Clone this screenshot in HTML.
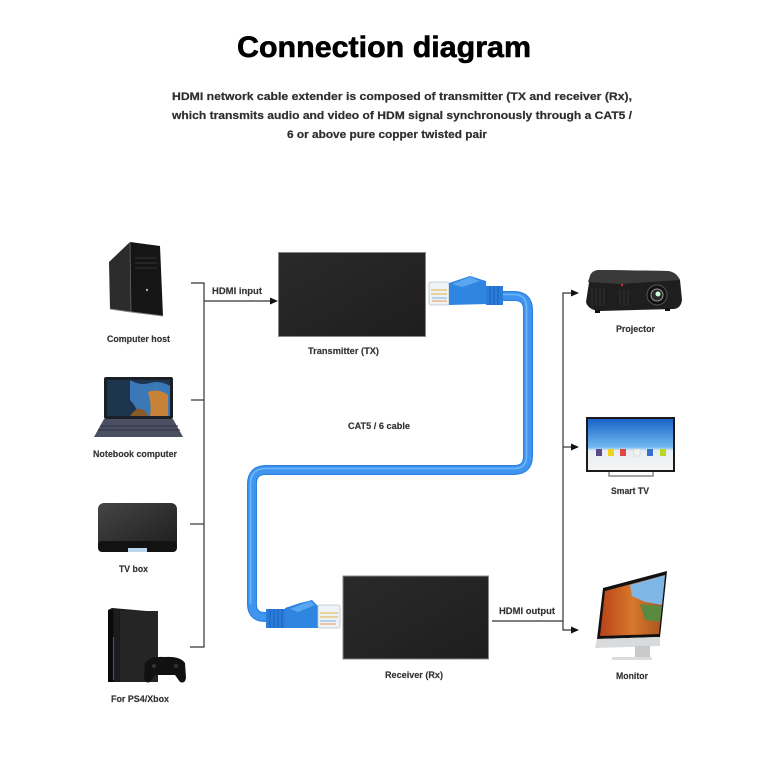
<!DOCTYPE html>
<html><head><meta charset="utf-8"><style>
html,body{margin:0;padding:0;background:#fff;}
svg{display:block;}
.t{font-family:"Liberation Sans",sans-serif;font-weight:bold;}
.l{font-family:"Liberation Sans",sans-serif;font-weight:bold;font-size:9px;fill:#333;stroke:#333;stroke-width:0.15;}
.s{font-family:"Liberation Sans",sans-serif;font-weight:bold;font-size:11px;fill:#2e2e2e;stroke:#2e2e2e;stroke-width:0.2;}
</style></head><body>
<svg width="768" height="768" viewBox="0 0 768 768" xmlns="http://www.w3.org/2000/svg">
<defs>
<linearGradient id="tvsky" x1="0" y1="0" x2="0" y2="1">
<stop offset="0" stop-color="#1a62c8"/><stop offset="0.55" stop-color="#6fb8ee"/><stop offset="0.62" stop-color="#e6eef3"/><stop offset="1" stop-color="#f4f4f4"/>
</linearGradient>
<linearGradient id="box" x1="0" y1="0" x2="1" y2="1">
<stop offset="0" stop-color="#2a2a2a"/><stop offset="1" stop-color="#1e1e1e"/>
</linearGradient>
<linearGradient id="tvb" x1="0" y1="0" x2="1" y2="1">
<stop offset="0" stop-color="#454545"/><stop offset="1" stop-color="#1d1d1d"/>
</linearGradient>
<linearGradient id="ps" x1="0" y1="0" x2="1" y2="0">
<stop offset="0" stop-color="#111"/><stop offset="1" stop-color="#3a3a3a"/>
</linearGradient>
<linearGradient id="mac" x1="0" y1="0" x2="1" y2="0">
<stop offset="0" stop-color="#b8431a"/><stop offset="0.5" stop-color="#d7782d"/><stop offset="1" stop-color="#a8501e"/>
</linearGradient>
</defs>

<!-- Title -->
<text class="t" x="384" y="57" font-size="30" text-anchor="middle" fill="#000" stroke="#000" stroke-width="0.6" textLength="294" lengthAdjust="spacingAndGlyphs">Connection diagram</text>
<text class="s" x="172" y="100" textLength="460" lengthAdjust="spacingAndGlyphs">HDMI network cable extender is composed of transmitter (TX and receiver (Rx),</text>
<text class="s" x="172" y="119" textLength="460" lengthAdjust="spacingAndGlyphs">which transmits audio and video of HDM signal synchronously  through a CAT5 /</text>
<text class="s" x="287" y="138" textLength="200" lengthAdjust="spacingAndGlyphs">6 or above pure copper twisted pair</text>

<!-- Left bracket -->
<g stroke="#333" stroke-width="1.2" fill="none">
<path d="M191 283 H204 V647 H190"/>
<path d="M191 400 H204"/>
<path d="M190 524 H204"/>
<path d="M204 301 H271"/>
<!-- right bracket -->
<path d="M492 621 H563"/>
<path d="M572 293 H563 V630 H572"/>
<path d="M563 447 H572"/>
</g>
<polygon points="270,297.5 278,301 270,304.5" fill="#111"/>
<polygon points="571,289.5 579,293 571,296.5" fill="#111"/>
<polygon points="571,443.5 579,447 571,450.5" fill="#111"/>
<polygon points="571,626.5 579,630 571,633.5" fill="#111"/>
<text class="l" x="212" y="294" textLength="50" lengthAdjust="spacingAndGlyphs">HDMI input</text>
<text class="l" x="499" y="614" textLength="56" lengthAdjust="spacingAndGlyphs">HDMI output</text>

<!-- TX box -->
<rect x="278.5" y="252.5" width="147" height="84" fill="url(#box)" stroke="#888" stroke-width="1"/>
<text class="l" x="308" y="354" textLength="71" lengthAdjust="spacingAndGlyphs">Transmitter (TX)</text>
<!-- RX box -->
<rect x="343" y="576" width="145.5" height="83" fill="url(#box)" stroke="#888" stroke-width="1"/>
<text class="l" x="385" y="678" textLength="58" lengthAdjust="spacingAndGlyphs">Receiver (Rx)</text>

<!-- Cable -->
<path d="M500 296 H514 Q528 296 528 310 V456 Q528 470 514 470 H266 Q252 470 252 484 V604 Q252 617 265 617 H272" fill="none" stroke="#2f82e0" stroke-width="10" stroke-linejoin="round"/>
<path d="M500 296 H514 Q528 296 528 310 V456 Q528 470 514 470 H266 Q252 470 252 484 V604 Q252 617 265 617 H272" fill="none" stroke="#3f95ef" stroke-width="7.5"/>
<path d="M500 294.5 H514 Q526.5 294.5 526.5 308 V456 Q526.5 468.5 514 468.5 H266 Q250.5 468.5 250.5 484 V604" fill="none" stroke="#6db6f7" stroke-width="1.6"/>
<text class="l" x="348" y="429" textLength="62" lengthAdjust="spacingAndGlyphs">CAT5 / 6 cable</text>

<!-- TX connector -->
<g>
<rect x="429" y="282" width="20" height="23" rx="2" fill="#eef3f6" stroke="#b8c4cc" stroke-width="0.8"/>
<path d="M431 290 H447 M431 294 H447" stroke="#e0b040" stroke-width="1"/>
<path d="M432 298 H447" stroke="#7fb0e0" stroke-width="1"/>
<path d="M432 301 H447" stroke="#e79a5a" stroke-width="1"/>
<polygon points="449,283 470,276 486,281 487,304 449,305" fill="#2f86e0"/>
<polygon points="452,284 470,277 480,281 462,287" fill="#5aa6f2"/>
<rect x="486" y="286" width="17" height="19" fill="#2a7ddb"/>
<path d="M490 286 V305 M494 286 V305 M498 286 V305" stroke="#1d5fb4" stroke-width="1"/>
</g>
<!-- RX connector -->
<g>
<rect x="266" y="609" width="19" height="19" fill="#2a7ddb"/>
<path d="M270 609 V628 M274 609 V628 M278 609 V628 M282 609 V628" stroke="#1d5fb4" stroke-width="1"/>
<polygon points="285,608 300,603 312,600 318,606 318,628 285,628" fill="#2f86e0"/>
<polygon points="290,609 310,601 315,605 298,612" fill="#5aa6f2"/>
<rect x="318" y="605" width="22" height="23" rx="2" fill="#eef3f6" stroke="#b8c4cc" stroke-width="0.8"/>
<path d="M320 613 H338 M320 617 H338" stroke="#e0b040" stroke-width="1"/>
<path d="M320 621 H336" stroke="#7fb0e0" stroke-width="1"/>
<path d="M320 624 H336" stroke="#e79a5a" stroke-width="1"/>
</g>

<!-- Computer host -->
<g>
<polygon points="109,262 130,242 131,312 110,309" fill="#2c2c2c"/>
<polygon points="130,242 160,246 163,316 131,312" fill="#151515"/>
<path d="M130 242 L131 312" stroke="#666" stroke-width="0.8"/>
<path d="M110 309 L131 312 L163 316" stroke="#888" stroke-width="1"/>
<path d="M135 258 H157 M135 263 H157 M135 268 H157" stroke="#333" stroke-width="1"/>
<circle cx="147" cy="290" r="1.2" fill="#aaa"/>
<text class="l" x="107" y="342" textLength="63" lengthAdjust="spacingAndGlyphs">Computer host</text>
</g>

<!-- Notebook -->
<g>
<rect x="104" y="377" width="69" height="42" rx="2" fill="#1b1f26"/>
<rect x="107" y="380" width="63" height="36" fill="#1e3550"/>
<path d="M130 380 Q140 386 150 383 Q160 380 170 386 V416 H140 Q135 405 130 400 Z" fill="#3a78b8"/>
<path d="M148 392 Q158 388 168 395 V416 H150 Q152 405 148 392 Z" fill="#c88238"/>
<path d="M130 416 Q138 404 146 412 L148 416 Z" fill="#8a5a2a"/>
<polygon points="104,419 173,419 183,437 94,437" fill="#4a4f62"/>
<path d="M100 426 H178 M98 430 H180" stroke="#2e3242" stroke-width="1"/>
<text class="l" x="93" y="457" textLength="84" lengthAdjust="spacingAndGlyphs">Notebook computer</text>
</g>

<!-- TV box -->
<g>
<rect x="98" y="503" width="79" height="47" rx="6" fill="url(#tvb)"/>
<rect x="98" y="541" width="79" height="11" rx="4" fill="#121212"/>
<rect x="128" y="548" width="19" height="4" fill="#bcd6f0"/>
<text class="l" x="119" y="572" textLength="29" lengthAdjust="spacingAndGlyphs">TV box</text>
</g>

<!-- PS4 -->
<g>
<polygon points="108,610 112,608 158,612 158,682 108,682" fill="url(#ps)"/>
<rect x="108" y="610" width="5" height="72" fill="#0a0a0a"/>
<rect x="114" y="610" width="5" height="72" fill="#1c1c1c"/>
<path d="M113.5 637 V680" stroke="#2c4f9a" stroke-width="1.2"/>
<rect x="120" y="611" width="38" height="71" fill="#252525"/>
<path d="M145 663 Q150 656 165 657 Q180 656 185 663 L186 678 Q185 684 180 682 L175 675 H155 L150 682 Q145 684 144 678 Z" fill="#111"/>
<circle cx="154" cy="666" r="2" fill="#333"/><circle cx="176" cy="666" r="2" fill="#333"/>
<text class="l" x="111" y="702" textLength="58" lengthAdjust="spacingAndGlyphs">For PS4/Xbox</text>
</g>

<!-- Projector -->
<g>
<path d="M590 276 Q592 270 600 270 L668 271 Q676 272 680 280 L682 300 Q681 308 674 309 L600 311 Q588 310 586 302 Z" fill="#1e1e1e"/>
<path d="M590 276 Q592 270 600 270 L668 271 Q676 272 680 280 L620 284 L588 282 Z" fill="#3a3a3a"/>
<path d="M592 288 V306 M596 288 V306 M600 288 V306 M604 288 V306" stroke="#333" stroke-width="1"/>
<path d="M620 290 V306 M624 290 V306 M628 290 V306" stroke="#333" stroke-width="1"/>
<circle cx="657" cy="295" r="10" fill="#111" stroke="#555" stroke-width="1"/>
<circle cx="657" cy="295" r="6" fill="#2a2a2a" stroke="#999" stroke-width="1"/>
<circle cx="658" cy="294" r="2.5" fill="#cfd"/>
<circle cx="622" cy="285" r="1.2" fill="#c33"/>
<rect x="595" y="310" width="5" height="3" fill="#111"/><rect x="665" y="308" width="5" height="3" fill="#111"/>
<text class="l" x="616" y="332" textLength="39" lengthAdjust="spacingAndGlyphs">Projector</text>
</g>

<!-- Smart TV -->
<g>
<rect x="586" y="417" width="89" height="55" fill="#1a1a1a"/>
<rect x="588" y="419" width="85" height="51" fill="url(#tvsky)"/>
<rect x="596" y="449" width="6" height="7" fill="#5b4a8a"/>
<rect x="608" y="449" width="6" height="7" fill="#f1d21b"/>
<rect x="620" y="449" width="6" height="7" fill="#e04848"/>
<rect x="634" y="449" width="6" height="7" fill="#f2f2f2" stroke="#ccc" stroke-width="0.5"/>
<rect x="647" y="449" width="6" height="7" fill="#3a6fd0"/>
<rect x="660" y="449" width="6" height="7" fill="#b8d820"/>
<path d="M609 472 V476 H653 V472" fill="none" stroke="#888" stroke-width="1.5"/>
<text class="l" x="611" y="494" textLength="38" lengthAdjust="spacingAndGlyphs">Smart TV</text>
</g>

<!-- Monitor -->
<g>
<polygon points="603,588 667,571 660,637 597,639" fill="#111"/>
<polygon points="605,591 665,575 659,634 600,636" fill="url(#mac)"/>
<polygon points="630,585 665,575 662,605 645,602 632,596" fill="#7eb6e6"/>
<polygon points="640,604 662,606 660,622 645,620" fill="#5a8a40"/>
<polygon points="597,639 660,637 660,646 595,648" fill="#d9dadc"/>
<rect x="635" y="646" width="15" height="12" fill="#c8c9cb"/>
<rect x="612" y="657" width="40" height="3" fill="#dcdcdc"/>
<text class="l" x="616" y="679" textLength="32" lengthAdjust="spacingAndGlyphs">Monitor</text>
</g>
</svg>
</body></html>
